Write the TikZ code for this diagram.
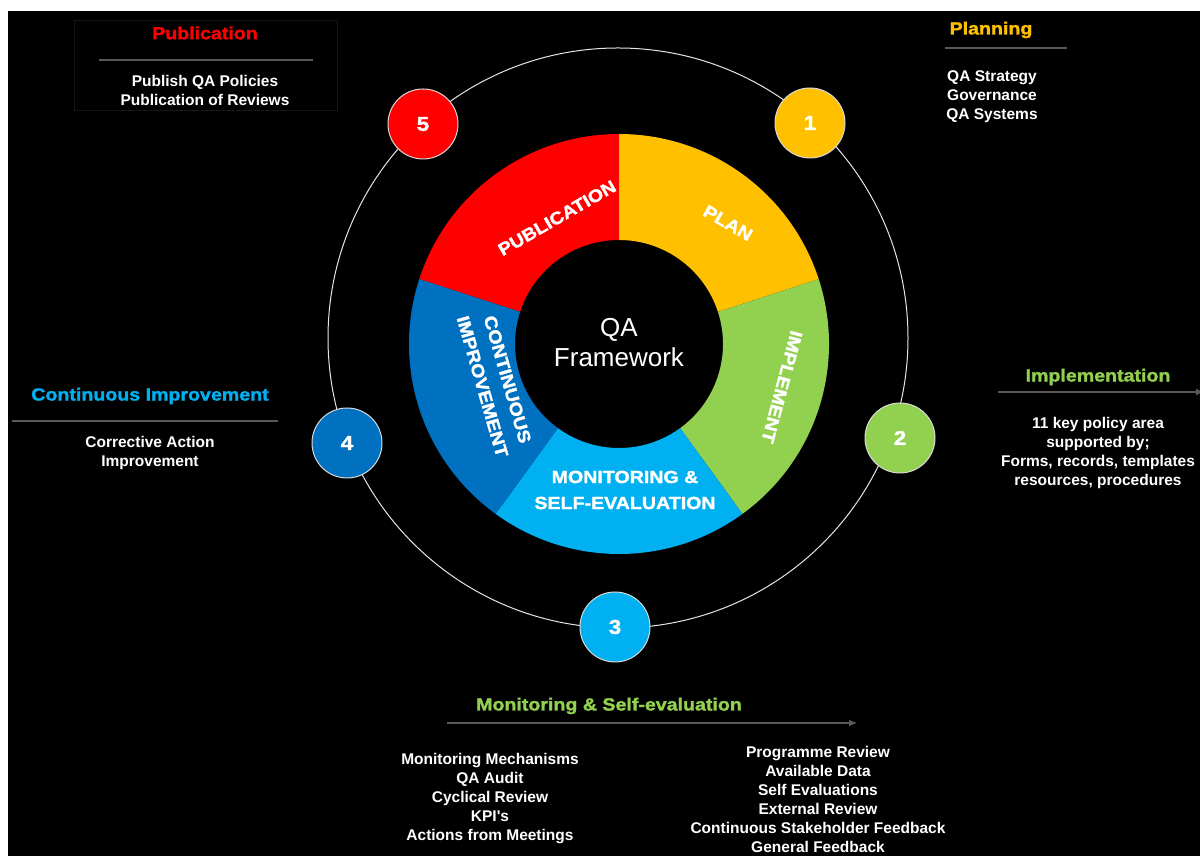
\documentclass[tikz,border=0pt]{standalone}
\usepackage{fontspec}
\setmainfont{Liberation Sans}
\newfontfamily\blackfont{Liberation Sans}[FakeStretch=1.12, BoldFeatures={FakeBold=1.6}]
\newfontfamily\straightfont{Liberation Sans}[Ligatures=TeXOff]
\usetikzlibrary{arrows.meta}
\definecolor{qred}{HTML}{FF0000}
\definecolor{qyellow}{HTML}{FFC000}
\definecolor{qgreen}{HTML}{92D050}
\definecolor{qcyan}{HTML}{00B0F0}
\definecolor{qblue}{HTML}{0070C0}
\definecolor{rulegray}{HTML}{595959}
\definecolor{boxgray}{HTML}{161616}
\tikzset{
    numdot/.style={circle, draw=white!85!black, line width=1pt, fill=#1, minimum size=70pt, inner sep=0pt, text=white, font=\blackfont\bfseries\fontsize{20}{20}\selectfont},
    ringlabel/.style={text=white, align=center, inner sep=0pt, font=\blackfont\bfseries\fontsize{17.5}{26}\selectfont},
    head/.style={text=#1, inner sep=0pt, font=\blackfont\bfseries\fontsize{17.5}{21}\selectfont},
    body/.style={text=white, align=center, inner sep=0pt, font=\bfseries\fontsize{15.5}{19}\selectfont},
    rule/.style={draw=rulegray, line width=1.2pt}
}
\newcommand{\ringpart}[3]{\fill[#1] (#2:210pt) arc[start angle=#2, end angle=#3, radius=210pt] -- (#3:104pt) arc[start angle=#3, end angle=#2, radius=104pt] -- cycle;}

\begin{document}
\begin{tikzpicture}[x=1pt, y=1pt]
  \useasboundingbox (0,0) rectangle (1200,856);
  \fill[white] (0,0) rectangle (1200,856);
  \fill[black] (8,0) rectangle (1200,845);

  \draw[white!90!black, line width=1pt] (618,518) circle[radius=290pt];

  \begin{scope}[shift={(619,512)}]
    \ringpart{qred}{162}{90}
    \ringpart{qyellow}{90}{18}
    \ringpart{qgreen}{18}{-54}
    \ringpart{qcyan}{-54}{-126}
    \ringpart{qblue}{-126}{-198}
  \end{scope}

  \node (core) [text=white, align=center, font=\fontsize{26}{30}\selectfont] at (619,513) {QA\\Framework};
  \node (plan) [ringlabel, rotate=-30] at (728,633) {PLAN};
  \node (impl) [ringlabel, rotate=-105] at (782,469) {IMPLEMENT};
  \node (moni) [ringlabel] at (625,366) {MONITORING \&\\SELF-EVALUATION};
  \node (cont) [ringlabel, rotate=-74] at (495,473) {CONTINUOUS\\IMPROVEMENT};
  \node (publ) [ringlabel, rotate=30] at (557,638) {PUBLICATION};

  \node (n1) [numdot=qyellow] at (810,733) {1};
  \node (n2) [numdot=qgreen] at (900,418) {2};
  \node (n3) [numdot=qcyan] at (615,229) {3};
  \node (n4) [numdot=qblue] at (347,413) {4};
  \node (n5) [numdot=qred] at (423,732) {5};

  \draw[boxgray, line width=0.8pt] (74,746) rectangle (337,836);
  \node (pubhead) [head=qred] at (205,823) {Publication};
  \draw[rule] (99,796) -- (313,796);
  \node (pubbody) [body] at (205,765.5) {Publish QA Policies\\Publication of Reviews};

  \node (planhead) [head=qyellow] at (991,826) {Planning};
  \draw[rule] (945,808) -- (1067,808);
  \node (planbody) [body] at (992,759.5) {QA Strategy\\Governance\\QA Systems};

  \node (conthead) [head=qcyan] at (150,460) {Continuous Improvement};
  \draw[rule] (12,435) -- (278,435);
  \node (contbody) [body] at (150,402.5) {Corrective Action\\Improvement};

  \node (implhead) [head=qgreen] at (1098,479) {Implementation};
  \draw[rule, -{Latex[length=8pt, width=7pt]}] (998,464) -- (1204,464);
  \node (implbody) [body] at (1098,402.5) {11 key policy area\\supported by;\\Forms, records, templates\\resources, procedures};

  \node (monihead) [head=qgreen] at (609,150) {Monitoring \& Self-evaluation};
  \draw[rule, -{Latex[length=8pt, width=7pt]}] (447,133) -- (857,133);
  \node (monileft) [body] at (490,57) {Monitoring Mechanisms\\QA Audit\\Cyclical Review\\KPI{\straightfont\bfseries'}s\\Actions from Meetings};
  \node (moniright) [body] at (818,56.5) {Programme Review\\Available Data\\Self Evaluations\\External Review\\Continuous Stakeholder Feedback\\General Feedback};
\end{tikzpicture}
\end{document}
